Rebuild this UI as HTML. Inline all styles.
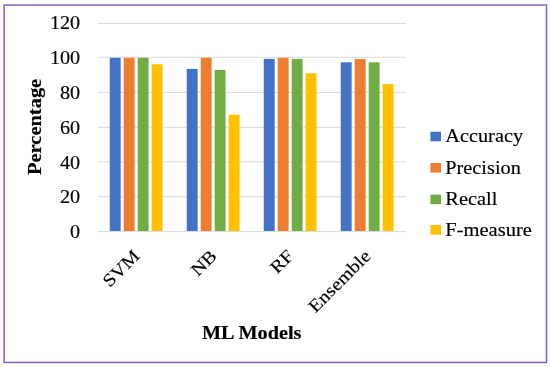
<!DOCTYPE html>
<html><head><meta charset="utf-8"><title>ML Models chart</title>
<style>html,body{margin:0;padding:0;background:#fff;}svg{display:block;}text{font-family:"Liberation Serif","Times New Roman",serif;fill:#000;stroke:#000;stroke-width:0.15px;}</style></head><body>
<svg width="550" height="367" viewBox="0 0 550 367">
<rect x="0" y="0" width="550" height="367" fill="#fff"/>
<rect x="4.1" y="5.05" width="542.45" height="357.4" fill="none" stroke="#875ABF" stroke-width="1.45"/>
<line x1="98.0" x2="406.0" y1="231.60" y2="231.60" stroke="#D9D9D9" stroke-width="1"/>
<line x1="98.0" x2="406.0" y1="196.80" y2="196.80" stroke="#D9D9D9" stroke-width="1"/>
<line x1="98.0" x2="406.0" y1="161.80" y2="161.80" stroke="#D9D9D9" stroke-width="1"/>
<line x1="98.0" x2="406.0" y1="127.30" y2="127.30" stroke="#D9D9D9" stroke-width="1"/>
<line x1="98.0" x2="406.0" y1="92.40" y2="92.40" stroke="#D9D9D9" stroke-width="1"/>
<line x1="98.0" x2="406.0" y1="57.30" y2="57.30" stroke="#D9D9D9" stroke-width="1"/>
<line x1="98.0" x2="406.0" y1="23.40" y2="23.40" stroke="#D9D9D9" stroke-width="1"/>
<rect x="109.75" y="57.80" width="10.90" height="173.20" fill="#4472C4"/>
<rect x="123.72" y="57.80" width="10.90" height="173.20" fill="#ED7D31"/>
<rect x="137.69" y="57.80" width="10.90" height="173.20" fill="#70AD47"/>
<rect x="151.66" y="64.30" width="10.90" height="166.70" fill="#FFC000"/>
<rect x="186.74" y="68.90" width="10.90" height="162.10" fill="#4472C4"/>
<rect x="200.71" y="57.80" width="10.90" height="173.20" fill="#ED7D31"/>
<rect x="214.68" y="70.00" width="10.90" height="161.00" fill="#70AD47"/>
<rect x="228.65" y="114.70" width="10.90" height="116.30" fill="#FFC000"/>
<rect x="263.75" y="58.90" width="10.90" height="172.10" fill="#4472C4"/>
<rect x="277.72" y="57.80" width="10.90" height="173.20" fill="#ED7D31"/>
<rect x="291.69" y="58.90" width="10.90" height="172.10" fill="#70AD47"/>
<rect x="305.66" y="73.30" width="10.90" height="157.70" fill="#FFC000"/>
<rect x="340.75" y="62.30" width="10.90" height="168.70" fill="#4472C4"/>
<rect x="354.72" y="59.10" width="10.90" height="171.90" fill="#ED7D31"/>
<rect x="368.69" y="62.30" width="10.90" height="168.70" fill="#70AD47"/>
<rect x="382.66" y="84.10" width="10.90" height="146.90" fill="#FFC000"/>
<text transform="translate(80.20,237.70) scale(1.13,1)" font-size="17.9" text-anchor="end">0</text>
<text transform="translate(80.20,202.90) scale(1.13,1)" font-size="17.9" text-anchor="end">20</text>
<text transform="translate(80.20,168.60) scale(1.13,1)" font-size="17.9" text-anchor="end">40</text>
<text transform="translate(80.20,134.00) scale(1.13,1)" font-size="17.9" text-anchor="end">60</text>
<text transform="translate(80.20,98.70) scale(1.13,1)" font-size="17.9" text-anchor="end">80</text>
<text transform="translate(80.20,64.20) scale(1.13,1)" font-size="17.9" text-anchor="end">100</text>
<text transform="translate(80.20,29.40) scale(1.13,1)" font-size="17.9" text-anchor="end">120</text>
<text transform="translate(40.80,126.90) rotate(-90) scale(1.143,1)" font-size="17.9" font-weight="bold" text-anchor="middle">Percentage</text>
<text transform="translate(140.80,257.10) rotate(-45) scale(1.13,1)" font-size="17.9" text-anchor="end">SVM</text>
<text transform="translate(217.80,257.10) rotate(-45) scale(1.13,1)" font-size="17.9" text-anchor="end">NB</text>
<text transform="translate(294.80,257.10) rotate(-45) scale(1.13,1)" font-size="17.9" text-anchor="end">RF</text>
<text transform="translate(371.80,257.10) rotate(-45) scale(1.13,1)" font-size="17.9" text-anchor="end">Ensemble</text>
<text transform="translate(251.70,339.00) scale(1.132,1)" font-size="17.9" font-weight="bold" text-anchor="middle">ML Models</text>
<rect x="430.4" y="131.7" width="10.6" height="9.6" fill="#4472C4"/>
<text transform="translate(445.30,142.40) scale(1.135,1)" font-size="17.9" text-anchor="start">Accuracy</text>
<rect x="430.4" y="163.0" width="10.6" height="9.6" fill="#ED7D31"/>
<text transform="translate(445.30,174.00) scale(1.135,1)" font-size="17.9" text-anchor="start">Precision</text>
<rect x="430.4" y="194.6" width="10.6" height="9.6" fill="#70AD47"/>
<text transform="translate(445.30,204.90) scale(1.14,1)" font-size="17.9" text-anchor="start">Recall</text>
<rect x="430.4" y="225.1" width="10.6" height="9.6" fill="#FFC000"/>
<text transform="translate(445.30,236.00) scale(1.147,1)" font-size="17.9" text-anchor="start">F-measure</text>
</svg></body></html>
